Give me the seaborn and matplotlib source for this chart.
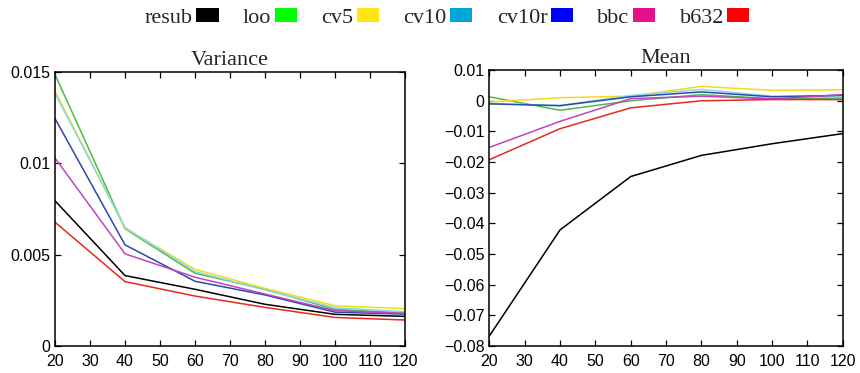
"""
Variance and mean of error estimators versus sample size.
"""

import matplotlib

matplotlib.use("Agg")
import matplotlib.pyplot as plt
import pandas as pd
import seaborn as sns
from matplotlib.patches import Patch
from matplotlib.ticker import FuncFormatter, MultipleLocator

sample_sizes = [20, 40, 60, 80, 100, 120]
methods = ["resub", "loo", "cv5", "cv10", "cv10r", "bbc", "b632"]

variance = {
    "resub": [0.00795, 0.00386, 0.00311, 0.00229, 0.00174, 0.00163],
    "loo": [0.01486, 0.00642, 0.00399, 0.00311, 0.00201, 0.00183],
    "cv5": [0.01395, 0.00645, 0.00420, 0.00316, 0.00221, 0.00205],
    "cv10": [0.01382, 0.00649, 0.00408, 0.00307, 0.00210, 0.00188],
    "cv10r": [0.01245, 0.00554, 0.00355, 0.00280, 0.00186, 0.00175],
    "bbc": [0.01029, 0.00505, 0.00377, 0.00285, 0.00194, 0.00179],
    "b632": [0.00678, 0.00353, 0.00274, 0.00212, 0.00157, 0.00143],
}

mean = {
    "resub": [-0.0767, -0.0421, -0.0247, -0.0178, -0.0140, -0.0107],
    "loo": [0.0013, -0.0031, 0.0000, 0.0020, 0.0007, 0.0009],
    "cv5": [-0.0004, 0.0010, 0.0015, 0.0047, 0.0034, 0.0036],
    "cv10": [-0.0009, -0.0015, 0.0017, 0.0037, 0.0015, 0.0015],
    "cv10r": [-0.0010, -0.0016, 0.0013, 0.0029, 0.0013, 0.0018],
    "bbc": [-0.0152, -0.0067, 0.0007, 0.0015, 0.0006, 0.0020],
    "b632": [-0.0192, -0.0091, -0.0023, 0.0000, 0.0004, 0.0004],
}

line_colors = {
    "resub": "#000000",
    "loo": "#4cbb47",
    "cv5": "#f2dc1a",
    "cv10": "#8ad8e0",
    "cv10r": "#2a48b0",
    "bbc": "#c242c2",
    "b632": "#e52a1e",
}
legend_colors = {
    "resub": "#000000",
    "loo": "#00ff00",
    "cv5": "#ffe516",
    "cv10": "#00a5d8",
    "cv10r": "#0000ff",
    "bbc": "#e3128a",
    "b632": "#ff0000",
}


def to_long(values):
    rows = []
    for m in methods:
        for n, v in zip(sample_sizes, values[m]):
            rows.append({"n": n, "value": v, "method": m})
    return pd.DataFrame(rows)


def fmt(v, _pos):
    return f"{v:g}".replace("-", "\u2212")


sns.set_style("ticks")
plt.rcParams["font.family"] = ["Liberation Sans", "DejaVu Sans"]

fig = plt.figure(figsize=(8.6, 3.73), dpi=100)
ax1 = fig.add_axes([0.064, 0.072, 0.407, 0.735])
ax2 = fig.add_axes([0.569, 0.072, 0.411, 0.740])

panels = [
    (ax1, variance, "Variance", (0, 0.015), 0.005),
    (ax2, mean, "Mean", (-0.08, 0.01), 0.01),
]

for ax, values, title, ylim, ystep in panels:
    sns.lineplot(
        data=to_long(values),
        x="n",
        y="value",
        hue="method",
        hue_order=methods,
        palette=line_colors,
        linewidth=1.1,
        legend=False,
        ax=ax,
    )
    ax.set_xlim(20, 120)
    ax.set_ylim(*ylim)
    ax.xaxis.set_major_locator(MultipleLocator(10))
    ax.yaxis.set_major_locator(MultipleLocator(ystep))
    ax.yaxis.set_major_formatter(FuncFormatter(fmt))
    ax.set_xlabel("")
    ax.set_ylabel("")
    ax.set_title(title, fontsize=16, family="Liberation Serif", pad=5)
    ax.tick_params(direction="in", top=True, right=True, length=4,
                   width=0.9, labelsize=11.5, colors="black")
    ax.tick_params(axis="x", pad=6)
    for sp in ax.spines.values():
        sp.set_visible(True)
        sp.set_linewidth(1.1)
        sp.set_color("black")

handles = [Patch(facecolor=legend_colors[m], edgecolor="none", label=m)
           for m in methods]
fig.legend(
    handles=handles,
    loc="center",
    bbox_to_anchor=(0.52, 0.952),
    ncol=len(methods),
    frameon=False,
    markerfirst=False,
    handlelength=1.0,
    handleheight=0.55,
    handletextpad=0.15,
    columnspacing=1.1,
    prop={"family": "Liberation Serif", "size": 16},
)

fig.savefig("out.png", dpi=100)
